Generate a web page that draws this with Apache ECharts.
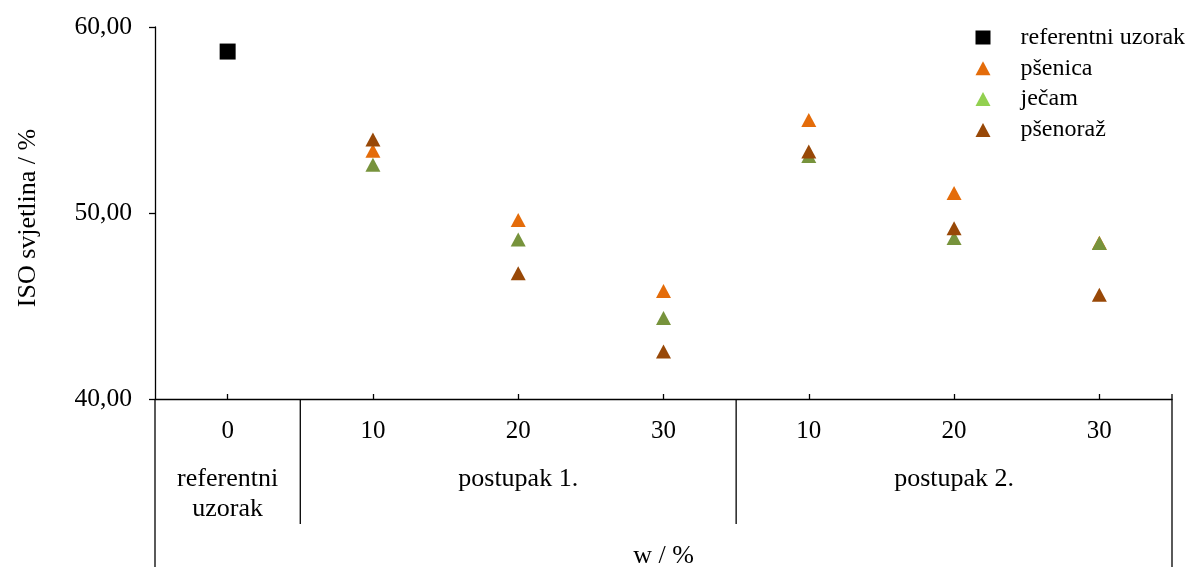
<!DOCTYPE html>
<html>
<head>
<meta charset="utf-8">
<script src="https://cdn.jsdelivr.net/npm/echarts@6/dist/echarts.min.js"></script>
<style>
html,body{margin:0;padding:0;background:#fff;}
#c{width:1189px;height:567px;}
</style>
</head>
<body>
<div id="c"></div>
<script>
const categories = ['0', '10', '20', '30', '10', '20', '30'];
const groups = [
  { label: 'referentni\nuzorak', from: 0, to: 0 },
  { label: 'postupak 1.', from: 1, to: 3 },
  { label: 'postupak 2.', from: 4, to: 6 }
];
const referentni = [58.68, null, null, null, null, null, null];
const psenica   = [null, 53.35, 49.62, 45.80, 55.00, 51.07, 48.40];
const jecam     = [null, 52.60, 48.57, 44.35, 53.06, 48.65, 48.39];
const psenoraz  = [null, 53.95, 46.76, 42.55, 53.30, 49.18, 45.61];
const yTicks = { min: 40, max: 60, interval: 10 };
const xName = 'w / %';
const yName = 'ISO svjetlina / %';

const FONT = '"Liberation Serif", "DejaVu Serif", serif';
const chart = echarts.init(document.getElementById('c'), null, { renderer: 'canvas' });

const option = {
  backgroundColor: '#fff',
  animation: false,
  textStyle: { fontFamily: FONT, color: '#000' },
  grid: { left: 155, right: 17, top: 27, bottom: 168 },
  legend: {
    orient: 'vertical',
    left: 970.5,
    top: 20.5,
    itemWidth: 15,
    itemHeight: 14,
    itemGap: 6.8,
    textStyle: { fontFamily: FONT, fontSize: 24, color: '#000', padding: [0, 0, 0, 25] },
    data: [
      { name: 'referentni uzorak', icon: 'rect' },
      { name: 'pšenica', icon: 'triangle' },
      { name: 'ječam', icon: 'triangle', itemStyle: { color: '#92D050' } },
      { name: 'pšenoraž', icon: 'triangle' }
    ]
  },
  xAxis: {
    type: 'category',
    data: categories,
    boundaryGap: true,
    axisLine: { show: true, lineStyle: { color: '#000', width: 1.3 } },
    axisTick: { show: true, inside: true, alignWithLabel: true, length: 5, lineStyle: { color: '#000', width: 1.3 } },
    axisLabel: { fontFamily: FONT, fontSize: 25, color: '#000', margin: 20 },
    splitLine: { show: false }
  },
  yAxis: {
    type: 'value',
    min: yTicks.min,
    max: yTicks.max,
    interval: yTicks.interval,
    name: yName,
    nameLocation: 'middle',
    nameGap: 114,
    nameTextStyle: { fontFamily: FONT, fontSize: 26, color: '#000', padding: [0, 10, 0, 0] },
    axisLine: { show: true, lineStyle: { color: '#000', width: 1.3 } },
    axisTick: { show: true, inside: false, length: 6, lineStyle: { color: '#000', width: 1.3 } },
    axisLabel: {
      fontFamily: FONT, fontSize: 25.6, color: '#000', margin: 23,
      formatter: v => v.toFixed(2).replace('.', ',')
    },
    splitLine: { show: false }
  },
  series: [
    { name: 'referentni uzorak', type: 'scatter', symbol: 'rect', symbolSize: 16,
      itemStyle: { color: '#000', opacity: 1 }, data: referentni },
    { name: 'pšenica', type: 'scatter', symbol: 'triangle', symbolSize: [15, 14],
      itemStyle: { color: '#E46C0A', opacity: 1 }, data: psenica },
    { name: 'ječam', type: 'scatter', symbol: 'triangle', symbolSize: [15, 14],
      itemStyle: { color: '#77933C', opacity: 1 }, data: jecam },
    { name: 'pšenoraž', type: 'scatter', symbol: 'triangle', symbolSize: [15, 14],
      itemStyle: { color: '#984807', opacity: 1 }, data: psenoraz }
  ]
};
chart.setOption(option);

function addDecorations() {
  const H = chart.getHeight();
  const c0 = chart.convertToPixel({ xAxisIndex: 0 }, 0);
  const c1 = chart.convertToPixel({ xAxisIndex: 0 }, 1);
  const band = c1 - c0;
  const axisY = chart.convertToPixel({ yAxisIndex: 0 }, yTicks.min);
  const leftX = c0 - band / 2;
  const rightX = chart.convertToPixel({ xAxisIndex: 0 }, categories.length - 1) + band / 2;
  const ls = { stroke: '#000', lineWidth: 1.3 };
  const els = [];
  els.push({ type: 'line', shape: { x1: leftX, y1: axisY, x2: leftX, y2: H }, style: ls, silent: true });
  els.push({ type: 'line', shape: { x1: rightX, y1: axisY - 5, x2: rightX, y2: H }, style: ls, silent: true });
  groups.forEach((g, i) => {
    const gl = chart.convertToPixel({ xAxisIndex: 0 }, g.from) - band / 2;
    const gr = chart.convertToPixel({ xAxisIndex: 0 }, g.to) + band / 2;
    if (i > 0) {
      els.push({ type: 'line', shape: { x1: gl, y1: axisY, x2: gl, y2: axisY + 125 }, style: ls, silent: true });
    }
    els.push({
      type: 'text', x: (gl + gr) / 2, y: axisY + 65.5, silent: true,
      style: { text: g.label, fontFamily: FONT, fontSize: 26, fill: '#000',
               align: 'center', verticalAlign: 'top', lineHeight: 30 }
    });
  });
  els.push({
    type: 'text', x: (leftX + rightX) / 2, y: axisY + 157, silent: true,
    style: { text: xName, fontFamily: FONT, fontSize: 26, fill: '#000', align: 'center', verticalAlign: 'middle' }
  });
  chart.setOption({ graphic: { elements: els } });
}
addDecorations();
</script>
</body>
</html>
